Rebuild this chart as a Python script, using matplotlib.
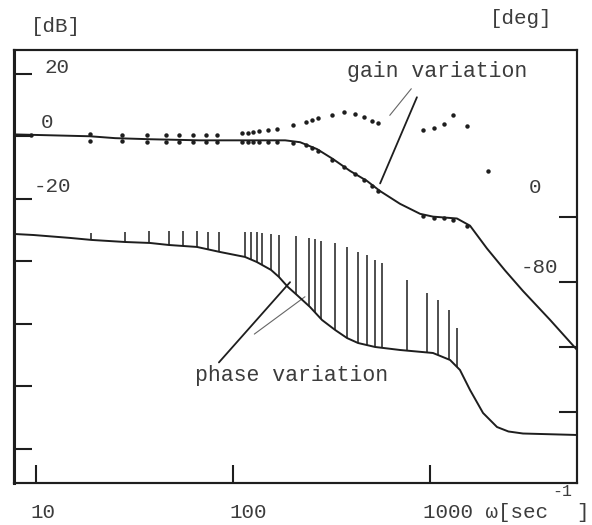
import numpy as np
import matplotlib.pyplot as plt
from matplotlib import transforms

plt.rcParams['font.family'] = ['Liberation Mono', 'DejaVu Sans Mono']

# nominal gain curve [dB] vs omega [1/sec]
gain_w = [7.7, 18.8, 25.2, 37.9, 67.9, 184, 219, 267, 322, 393, 479, 557, 704,
          890, 1035, 1370, 1596, 1946, 2402, 2965, 4064, 5570]
gain_db = [0.6, 0.0, -0.6, -0.95, -1.3, -1.3, -1.9, -4.1, -7.3, -11.1, -14.3,
           -17.5, -21.6, -24.8, -25.7, -26.3, -28.6, -35.9, -42.9, -49.5, -58.7, -68.3]

# nominal phase curve [deg]
phase_w = [7.7, 9.7, 14.9, 19.2, 28.3, 37.9, 47.3, 65.6, 85.9, 115, 132, 156, 171,
           190, 211, 246, 283, 330, 379, 431, 526, 704, 1035, 1264, 1419, 1596,
           1858, 2188, 2500, 2965, 5570]
phase_deg = [-20.9, -22.2, -25.8, -28.3, -30.8, -32.0, -34.5, -36.9, -43.1, -49.2,
             -55.4, -65.2, -73.8, -86.2, -96.0, -110.8, -126.8, -139.1, -149.0,
             -155.1, -160.0, -163.7, -167.4, -176.0, -188.3, -212.9, -241.2,
             -258.5, -264.0, -266.5, -268.3]

# gain variation (measured upper / lower points)
gv_w = [18.8, 27.4, 36.6, 45.7, 53.2, 62.7, 73.0, 83.0, 111, 119, 126, 136, 151,
        167, 202, 235, 252, 270, 318, 366, 416, 462, 508, 545, 921, 1047, 1177,
        1309, 1541]
gv_hi = [0.6, 0.5, 0.3, 0.3, 0.3, 0.3, 0.3, 0.3, 0.95, 0.95, 1.27, 1.59, 1.9,
         2.22, 3.49, 4.44, 5.08, 5.71, 6.67, 7.62, 6.98, 6.03, 4.76, 4.13, 1.9,
         2.54, 3.81, 6.67, 3.17]
gv_lo = [-1.6, -1.6, -1.7, -1.9, -1.9, -1.9, -1.9, -1.9, -1.9, -1.9, -1.9, -1.9,
         -1.9, -1.9, -2.2, -2.86, -3.81, -4.76, -7.62, -9.84, -12.1, -14.0, -15.9,
         -17.5, -25.4, -26.0, -26.3, -26.7, -28.6]
gv_extra_w = [9.4, 1968]
gv_extra_db = [0.3, -11.1]

# phase variation (upper limit of each bar, bars run down to nominal phase)
pv_w = [19.0, 28.3, 37.5, 47.3, 55.7, 65.6, 74.6, 84.9, 115, 123, 132, 140, 156,
        171, 209, 243, 261, 280, 330, 379, 431, 479, 526, 571, 764, 966, 1099,
        1249, 1370]
pv_top = [-19.7, -18.5, -17.2, -17.2, -17.2, -17.2, -18.5, -18.5, -18.5, -18.5,
          -18.5, -19.7, -20.9, -22.2, -23.4, -25.8, -27.1, -29.5, -32.0, -36.9,
          -43.1, -46.8, -52.9, -56.6, -77.5, -93.5, -102, -114.5, -136.6]

ink = '#1e1e1e'
txt = '#3c3c3c'

fig = plt.figure(figsize=(5.92, 5.25), dpi=100)
ax = fig.add_axes([0.0236, 0.08, 0.951, 0.8248])
ax2 = ax.twinx()

ax.set_xscale('log')
ax.set_xlim(7.73, 5570)
ax.set_ylim(-110.9, 27.6)
ax2.set_ylim(-327.4, 205.5)

ax.plot(gain_w, gain_db, color=ink, lw=1.4)
ax2.plot(phase_w, phase_deg, color=ink, lw=1.4)

ax.plot(gv_w, gv_hi, 'o', color=ink, ms=3.2, mew=0)
ax.plot(gv_w, gv_lo, 'o', color=ink, ms=3.2, mew=0)
ax.plot(gv_extra_w, gv_extra_db, 'o', color=ink, ms=3.2, mew=0)

pv_bottom = np.interp(np.log10(pv_w), np.log10(phase_w), phase_deg)
ax2.vlines(pv_w, pv_bottom, pv_top, color=ink, lw=1.1)

# frame and ticks
for a in (ax, ax2):
    for s in a.spines.values():
        s.set_linewidth(1.5)
        s.set_color(ink)
ax.spines['left'].set_linewidth(2.2)

ax.set_xticks([10, 100, 1000])
ax.set_xticks([], minor=True)
ax.set_yticks([20, 0, -20, -40, -60, -80, -100])
ax2.set_yticks([0, -80, -160, -240])
ax.tick_params(axis='both', direction='in', length=13, width=1.5, color=ink,
               labelbottom=False, labelleft=False)
ax2.tick_params(axis='y', direction='in', length=13, width=1.5, color=ink,
                labelright=False)

# tick labels written inside the frame
lab = dict(fontsize=15, color=txt, ha='center', va='center')
ly = transforms.blended_transform_factory(ax.transAxes, ax.transData)
ry = transforms.blended_transform_factory(ax2.transAxes, ax2.transData)
ax.text(0.076, 21.9, '20', transform=ly, **lab)
ax.text(0.059, 4.4, '0', transform=ly, **lab)
ax.text(0.069, -16.2, '-20', transform=ly, **lab)
ax2.text(0.925, 35.7, '0', transform=ry, **lab)
ax2.text(0.934, -62.8, '-80', transform=ry, **lab)

xb = transforms.blended_transform_factory(ax.transData, ax.transAxes)
ax.annotate('10', xy=(10, 0), xycoords=xb, xytext=(-6, -30), textcoords='offset pixels',
            fontsize=15, color=txt, ha='left', va='center')
ax.annotate('100', xy=(100, 0), xycoords=xb, xytext=(-4, -30), textcoords='offset pixels',
            fontsize=15, color=txt, ha='left', va='center')
ax.annotate('1000 \u03c9[sec', xy=(1000, 0), xycoords=xb, xytext=(-7, -30),
            textcoords='offset pixels', fontsize=15, color=txt, ha='left', va='center')
ax.annotate('-1', xy=(1000, 0), xycoords=xb, xytext=(122, -8),
            textcoords='offset pixels', fontsize=12, color=txt, ha='left', va='center')
ax.annotate(']', xy=(1000, 0), xycoords=xb, xytext=(146, -30),
            textcoords='offset pixels', fontsize=15, color=txt, ha='left', va='center')

fig.text(56 / 592, 1 - 27 / 525, '[dB]', fontsize=15, color=txt, ha='center', va='center')
fig.text(521 / 592, 1 - 18 / 525, '[deg]', fontsize=15, color=txt, ha='center', va='center')

# annotations
ax.text(1087, 20.6, 'gain variation', fontsize=15.5, color=txt, ha='center', va='center')
ax.annotate('', xy=(612, 6.0), xytext=(820, 15.9),
            arrowprops=dict(arrowstyle='-', color='#666666', lw=0.8))
ax.annotate('', xy=(551, -15.9), xytext=(869, 13.3),
            arrowprops=dict(arrowstyle='-', color=ink, lw=1.3))
ax.text(199, -76.5, 'phase variation', fontsize=15.5, color=txt, ha='center', va='center')
ax.annotate('', xy=(199, -46), xytext=(83, -73),
            arrowprops=dict(arrowstyle='-', color=ink, lw=1.3))
ax.annotate('', xy=(238, -50.8), xytext=(125, -63.8),
            arrowprops=dict(arrowstyle='-', color='#666666', lw=0.8))

fig.savefig('out.png', dpi=100, facecolor='white')
